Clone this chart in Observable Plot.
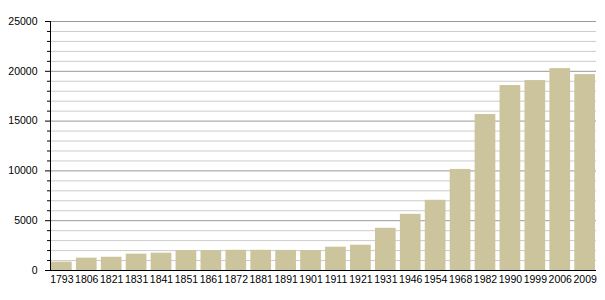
<!DOCTYPE html>
<html>
<head>
<meta charset="utf-8">
<script src="https://cdn.jsdelivr.net/npm/d3@7"></script>
<script src="https://cdn.jsdelivr.net/npm/@observablehq/plot@0.6"></script>
<style>
  html, body { margin: 0; padding: 0; background: #fff; }
  #chart svg { display: block; }
</style>
</head>
<body>
<div id="chart"></div>
<script>
const years = ["1793","1806","1821","1831","1841","1851","1861","1872","1881","1891","1901","1911","1921","1931","1946","1954","1968","1982","1990","1999","2006","2009"];
const population = [840,1240,1330,1640,1740,2010,2000,2030,2030,2020,2000,2340,2540,4240,5640,7050,10150,15660,18570,19070,20270,19670];
const yMajorTicks = [0,5000,10000,15000,20000,25000];
const yMinorTicks = [1000,2000,3000,4000,6000,7000,8000,9000,11000,12000,13000,14000,16000,17000,18000,19000,21000,22000,23000,24000];

const data = years.map((y, i) => ({year: y, pop: population[i]}));

const chart = Plot.plot({
  width: 605,
  height: 300,
  marginLeft: 50,
  marginRight: 9,
  marginTop: 21,
  marginBottom: 30,
  style: {fontFamily: "'Liberation Sans', Arial, sans-serif", fontSize: "10.5px", color: "#000", background: "#fff"},
  x: {domain: years, paddingInner: 0.17, paddingOuter: 0.04, round: false, label: null},
  y: {domain: [0, 25000], label: null},
  marks: [
    Plot.ruleY(yMinorTicks, {stroke: "#cccccc", strokeWidth: 1}),
    Plot.ruleY(yMajorTicks, {stroke: "#999999", strokeWidth: 1}),
    Plot.barY(data, {x: "year", y: "pop", fill: "#ccc49c"}),
    Plot.axisY(yMinorTicks, {tickSize: 3, text: null, stroke: "#000"}),
    Plot.axisY(yMajorTicks, {tickSize: 5, tickPadding: 8, tickFormat: d => String(d), stroke: "#000", fill: "#000", label: null}),
    Plot.axisX({tickSize: 0, tickPadding: 5, fill: "#000", label: null}),
    Plot.ruleY([0], {stroke: "#000", strokeWidth: 1}),
    Plot.frame({anchor: "left", stroke: "#000", strokeWidth: 1})
  ]
});
document.getElementById("chart").appendChild(chart);
</script>
</body>
</html>
